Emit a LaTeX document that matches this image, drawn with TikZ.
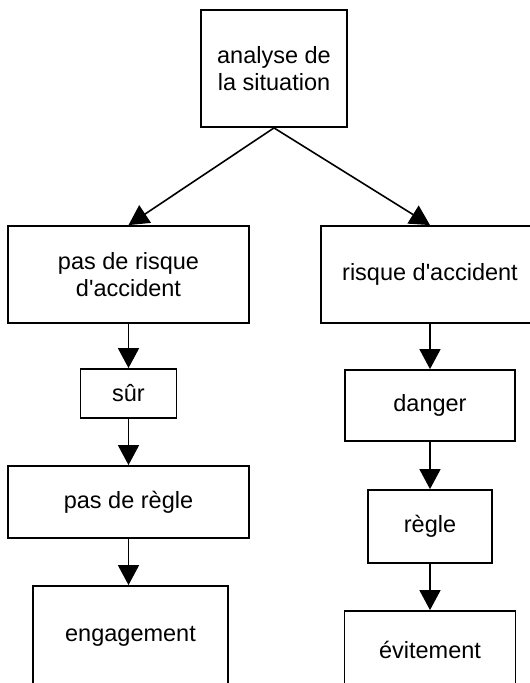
\documentclass[tikz,border=0pt]{standalone}
\usepackage{fontspec}
\setmainfont{Liberation Sans}
\usepackage{tikz}
\usetikzlibrary{arrows.meta,positioning}

\begin{document}
\begin{tikzpicture}[x=1pt, y=-1pt, auto]
    % Define styles
    \tikzstyle{box} = [rectangle, draw, line width=1.8pt, align=center, inner sep=0pt, font=\fontsize{23.5}{27}\selectfont]
    \tikzstyle{arrow} = [line width=1.6pt, -{Triangle[length=20pt, width=21pt]}]

    \clip (0,0) rectangle (530,683);

    % Top
    \node [box, minimum width=146pt, minimum height=117pt] (analyse) at (274,68.5) {analyse de\\la situation};

    % Left branch
    \node [box, minimum width=241pt, minimum height=97pt] (pasrisque) at (128.5,274.5) {pas de risque\\d\textquotesingle accident};
    \node [box, minimum width=96pt, minimum height=49pt, below of=pasrisque, node distance=119pt] (sur) {sûr};
    \node [box, minimum width=241pt, minimum height=72pt, below of=sur, node distance=108.5pt] (pasregle) {pas de règle};
    \node [box, minimum width=195pt, minimum height=100pt, below of=pasregle, node distance=134pt, xshift=2pt] (engagement) {engagement};

    % Right branch
    \node [box, minimum width=218pt, minimum height=97pt] (risque) at (430,274.5) {risque d\textquotesingle accident};
    \node [box, minimum width=170pt, minimum height=71pt, below of=risque, node distance=131pt] (danger) {danger};
    \node [box, minimum width=124pt, minimum height=73pt, below of=danger, node distance=121pt] (regle) {règle};
    \node [box, minimum width=171pt, minimum height=78pt, below of=regle, node distance=123.5pt] (evitement) {évitement};

    % Arrows
    \draw [arrow] (analyse.south) -- (pasrisque.north);
    \draw [arrow] (analyse.south) -- (risque.north);
    \draw [arrow] (pasrisque) -- (sur);
    \draw [arrow] (sur) -- (pasregle);
    \draw [arrow] (pasregle.south) -- (pasregle.south |- engagement.north);
    \draw [arrow] (risque) -- (danger);
    \draw [arrow] (danger) -- (regle);
    \draw [arrow] (regle) -- (evitement);
\end{tikzpicture}
\end{document}
